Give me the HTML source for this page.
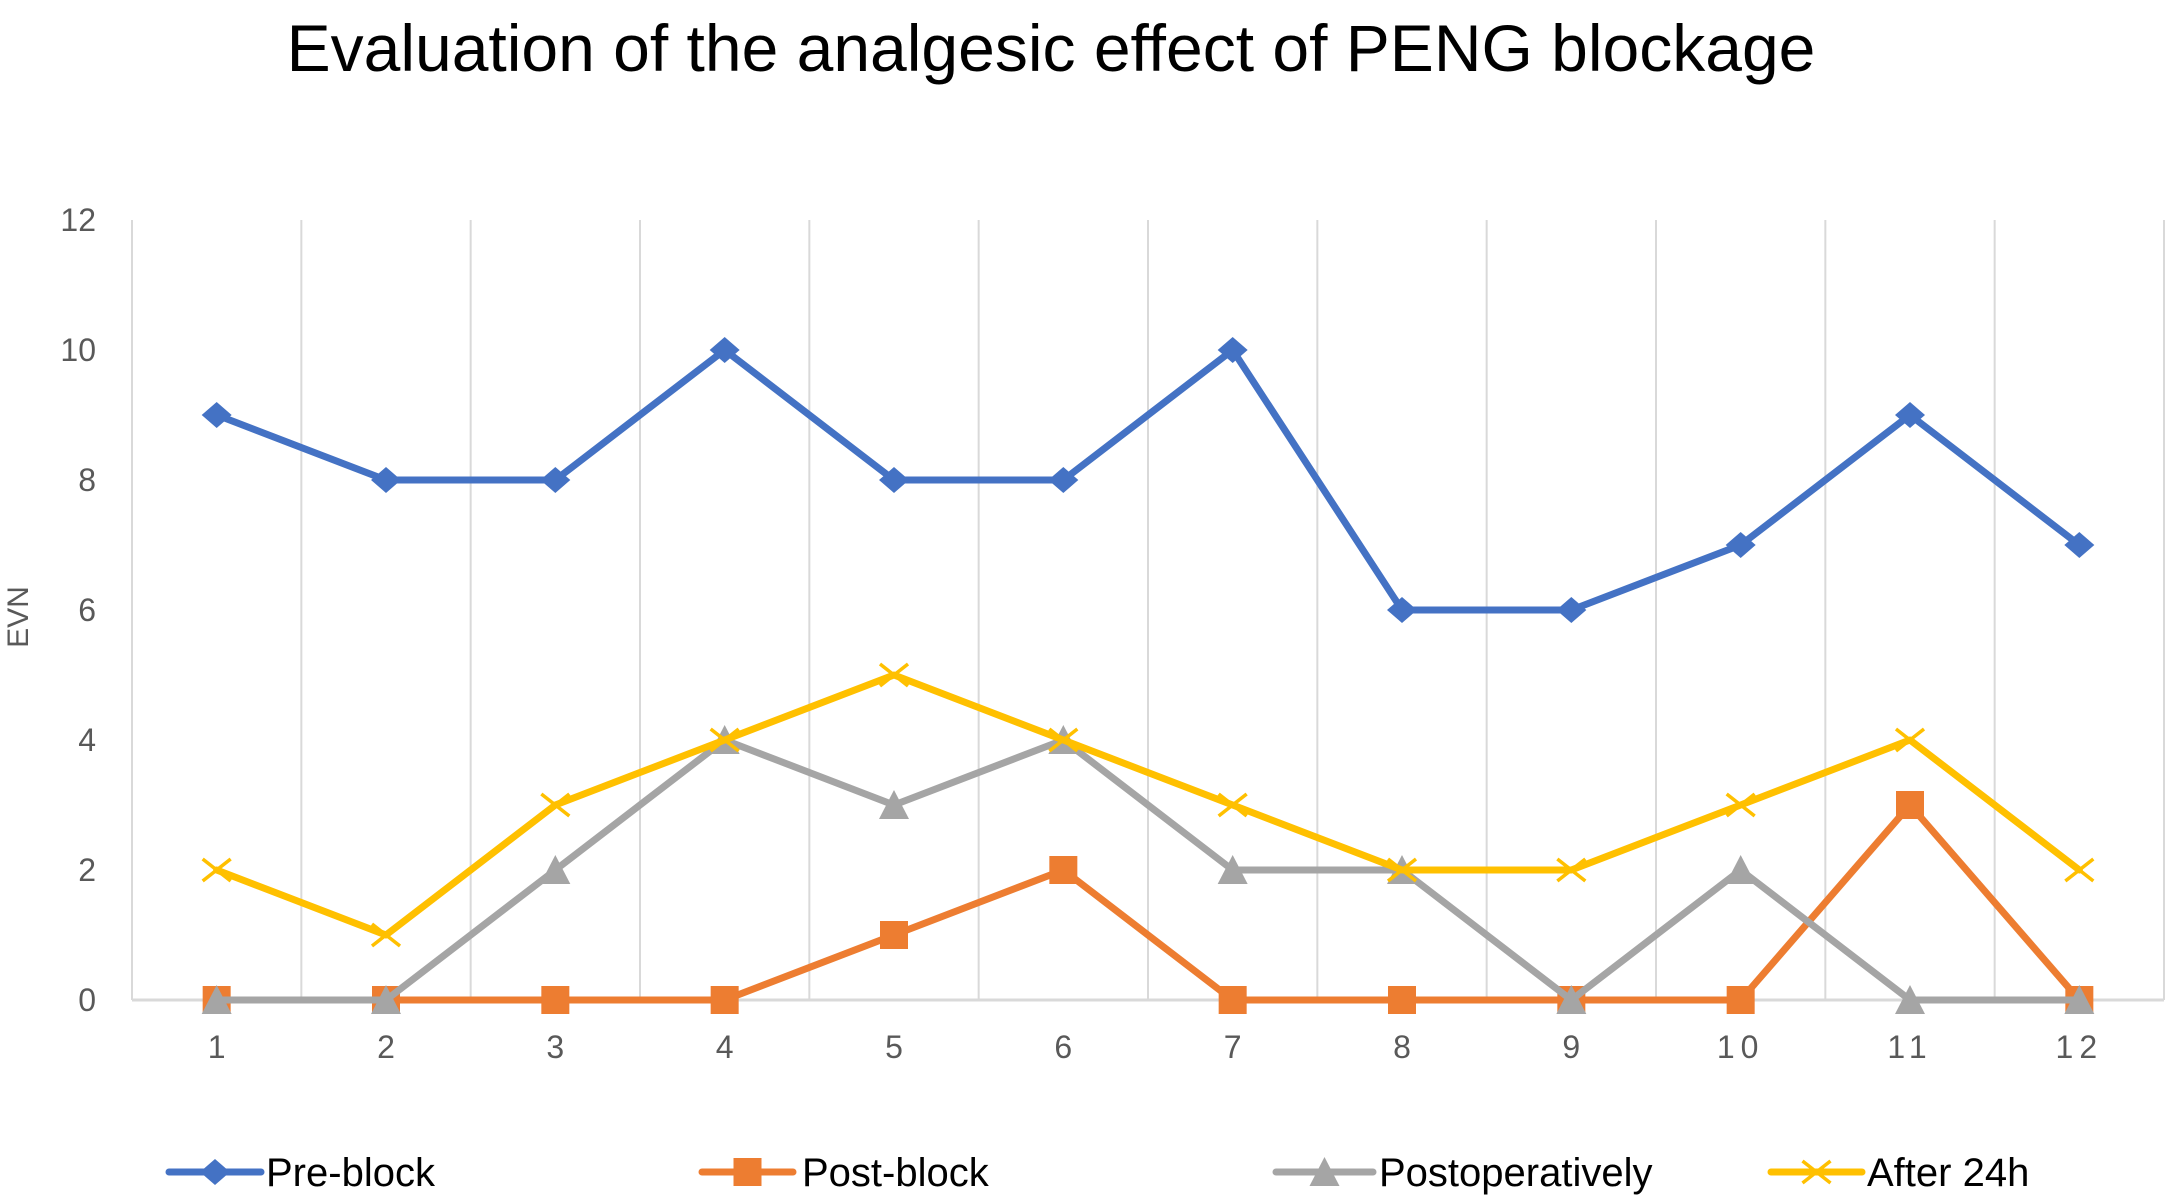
<!DOCTYPE html>
<html><head><meta charset="utf-8">
<style>
html,body{margin:0;padding:0;background:#fff;}
svg{display:block;}
</style></head>
<body>
<svg id="chart" width="2175" height="1201" xmlns="http://www.w3.org/2000/svg" font-family="Liberation Sans, sans-serif">
<rect width="2175" height="1201" fill="#fff"/>
<text x="1051" y="71" font-size="66" text-anchor="middle" fill="#000">Evaluation of the analgesic effect of PENG blockage</text>
<text transform="translate(28,617) rotate(-90)" font-size="30" text-anchor="middle" fill="#595959">EVN</text>
<g id="grid"></g><g id="axes"></g><g id="series"></g><g id="legend"></g>
</svg>
<script>
const categories = ["1","2","3","4","5","6","7","8","9","10","11","12"];
const yTicks = [0,2,4,6,8,10,12];
const preBlock = [9,8,8,10,8,8,10,6,6,7,9,7];
const postBlock = [0,0,0,0,1,2,0,0,0,0,3,0];
const postoperatively = [0,0,2,4,3,4,2,2,0,2,0,0];
const after24h = [2,1,3,4,5,4,3,2,2,3,4,2];
const seriesNames = ["Pre-block","Post-block","Postoperatively","After 24h"];

const NS="http://www.w3.org/2000/svg";
const L=132,R=2164,T=220,B=1000,YMAX=12;
const band=(R-L)/categories.length;
const xs=i=>L+band*(i+0.5);
const ys=v=>B-(v/YMAX)*(B-T);
function mk(tag,attrs,parent){const e=document.createElementNS(NS,tag);for(const k in attrs)e.setAttribute(k,attrs[k]);parent.appendChild(e);return e;}
const grid=document.getElementById('grid'),axes=document.getElementById('axes'),ser=document.getElementById('series'),leg=document.getElementById('legend');
for(let i=0;i<=categories.length;i++){
  const g=mk('line',{x1:L+band*i,x2:L+band*i,y1:T,y2:B,stroke:'#d9d9d9','stroke-width':2},grid);
  
  
}
const xa=mk('line',{x1:L,x2:R,y1:B,y2:B,stroke:'#d9d9d9','stroke-width':3},axes);


yTicks.forEach(v=>{
  const t=mk('text',{x:96,y:ys(v)+11,'font-size':32,'text-anchor':'end',fill:'#595959'},axes);
  t.textContent=v;
  
  
});
categories.forEach((c,i)=>{
  const t=mk('text',{x:xs(i),y:1058,'font-size':32,'text-anchor':'middle',fill:'#595959','letter-spacing':c.length>1?6:0},axes);
  t.textContent=c;
  
  
});
function marker(type,x,y,color,parent){
  let e;
  if(type==='diamond') e=mk('polygon',{points:`${x},${y-13} ${x+15},${y} ${x},${y+13} ${x-15},${y}`,fill:color},parent);
  else if(type==='square') e=mk('rect',{x:x-14,y:y-14,width:28,height:28,fill:color},parent);
  else if(type==='triangle') e=mk('polygon',{points:`${x},${y-15} ${x+15},${y+14} ${x-15},${y+14}`,fill:color},parent);
  else { e=mk('path',{d:`M${x-14},${y-11}L${x+14},${y+11}M${x-14},${y+11}L${x+14},${y-11}`,stroke:color,'stroke-width':3.5,fill:'none'},parent); }
  return e;
}
const defs=[[preBlock,'#4472c4','diamond'],[postBlock,'#ed7d31','square'],[postoperatively,'#a5a5a5','triangle'],[after24h,'#ffc000','x']];
defs.forEach(([data,color,m],si)=>{
  const g=mk('g',{},ser);
  
  
  const pl=mk('polyline',{points:data.map((v,i)=>xs(i)+','+ys(v)).join(' '),fill:'none',stroke:color,'stroke-width':7,'stroke-linejoin':'round','stroke-linecap':'round'},g);
  
  
  data.forEach((v,i)=>{
    const mm=marker(m,xs(i),ys(v),color,g);
    
    
  });
});
const legX=[[169,261,266],[702,793,802],[1276,1373,1379],[1771,1862,1867]];
defs.forEach(([d,color,m],i)=>{
  const g=mk('g',{},leg);
  
  
  const [a,b,tx]=legX[i];
  mk('line',{x1:a,x2:b,y1:1172,y2:1172,stroke:color,'stroke-width':7,'stroke-linecap':'round'},g);
  marker(m,(a+b)/2,1172,color,g);
  const t=mk('text',{x:tx,y:1186,'font-size':40,fill:'#000'},g);
  t.textContent=seriesNames[i];
});
</script>
</body></html>
